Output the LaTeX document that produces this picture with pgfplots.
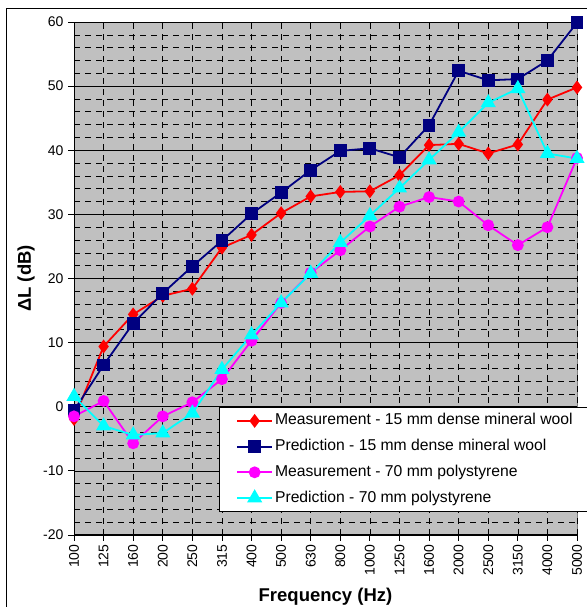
\documentclass[border=0pt]{standalone}
\usepackage{fontspec}
\setmainfont{Liberation Sans}
\usepackage{pgfplots}
\usepackage{pgfplotstable}
\pgfplotsset{compat=1.18}

\definecolor{bggray}{RGB}{192,192,192}
\definecolor{navyb}{RGB}{0,0,128}
\definecolor{redb}{RGB}{255,0,0}
\definecolor{magb}{RGB}{255,0,255}
\definecolor{cyanb}{RGB}{0,255,255}

% idx = category position, columns = Delta L in dB
\pgfplotstableread{
idx meas15 pred15 meas70 pred70
0  -1.9 -0.6 -1.5  1.6
1   9.4  6.5  0.9 -3.0
2  14.4 13.0 -5.7 -4.4
3  17.3 17.7 -1.5 -4.1
4  18.4 21.9  0.7 -1.0
5  24.8 25.9  4.3  5.8
6  26.8 30.1 10.3 11.2
7  30.2 33.4 16.2 16.2
8  32.8 36.9 20.9 20.8
9  33.5 39.9 24.4 25.6
10 33.6 40.3 28.1 29.8
11 36.1 38.9 31.2 34.1
12 40.8 43.9 32.7 38.5
13 41.0 52.4 32.0 42.8
14 39.5 50.9 28.3 47.4
15 40.9 51.1 25.2 49.6
16 47.9 54.0 28.0 39.5
17 49.8 59.9 38.8 38.7
}\datatable

\begin{document}
\begin{tikzpicture}
\begin{axis}[
  scale only axis, width=503pt, height=513pt,
  xmin=0, xmax=17, ymin=-20, ymax=60,
  axis lines=left, axis line style={-, black, line width=1pt},
  axis background/.style={fill=bggray, draw=gray, line width=0.8pt},
  xtick={0,...,17},
  xticklabels={100,125,160,200,250,315,400,500,630,800,1000,1250,1600,2000,2500,3150,4000,5000},
  ytick={-20,-10,...,60},
  yticklabels={-20,-10,0,10,20,30,40,50,60},
  minor ytick={-18,-16,-14,-12,-8,-6,-4,-2,2,4,6,8,12,14,16,18,22,24,26,28,32,34,36,38,42,44,46,48,52,54,56,58},
  grid=both,
  major x grid style={black, dash pattern=on 6pt off 5pt, line width=0.6pt},
  major y grid style={black, solid, line width=0.6pt},
  minor y grid style={black, dash pattern=on 6pt off 5pt, line width=0.6pt},
  tick align=outside, major tick length=6pt, minor tick length=0pt,
  tick style={black, line width=0.8pt},
  xticklabel style={rotate=90, anchor=east, font=\fontsize{14}{15}\selectfont},
  yticklabel style={font=\fontsize{14}{15}\selectfont, xshift=-1pt},
  xlabel={Frequency (Hz)},
  ylabel={ΔL (dB)},
  label style={font=\bfseries\fontsize{18.5}{20}\selectfont},
  xlabel style={at={([yshift=-66pt]axis description cs:0.5,0)}, anchor=base},
  ylabel style={at={([xshift=-43pt]axis description cs:0,0.5)}, anchor=base},
  legend style={at={(rel axis cs:0.288,0.2495)}, anchor=north west,
    draw=black, fill=white, line width=0.8pt,
    font=\fontsize{15.7}{17}\selectfont,
    inner xsep=17pt, inner ysep=4pt, row sep=6.7pt,
    nodes={inner sep=2pt, text height=11.5pt, text depth=3.5pt}},
  legend cell align=left,
  legend image code/.code={\draw[mark repeat=2,mark phase=2,#1] plot coordinates {(0pt,0pt) (17.5pt,0pt) (35pt,0pt)};},
]
\addplot[redb, line width=1.8pt, mark=diamond*, mark size=5.5pt, mark options={solid, fill=redb}]
  table[x=idx, y=meas15] {\datatable};
\addlegendentry{Measurement - 15 mm dense mineral wool}
\addplot[navyb, line width=1.8pt, mark=square*, mark size=5.5pt, mark options={solid, fill=navyb}]
  table[x=idx, y=pred15] {\datatable};
\addlegendentry{Prediction - 15 mm dense mineral wool}
\addplot[magb, line width=1.8pt, mark=*, mark size=5pt, mark options={solid, fill=magb}]
  table[x=idx, y=meas70] {\datatable};
\addlegendentry{Measurement - 70 mm polystyrene}
\addplot[cyanb, line width=1.8pt, mark=triangle*, mark size=7pt, mark options={solid, fill=cyanb}]
  table[x=idx, y=pred70] {\datatable};
\addlegendentry{Prediction - 70 mm polystyrene}
\end{axis}
\pgfresetboundingbox
\path[use as bounding box] ([shift={(-74pt,-72pt)}]current axis.south west) rectangle ([shift={(9pt,22pt)}]current axis.north east);
\draw[black, line width=1pt] ([shift={(-67pt,-90pt)}]current axis.south west) -- ([shift={(-67pt,13pt)}]current axis.north west) -- ([shift={(30pt,13pt)}]current axis.north east);
\end{tikzpicture}
\end{document}
